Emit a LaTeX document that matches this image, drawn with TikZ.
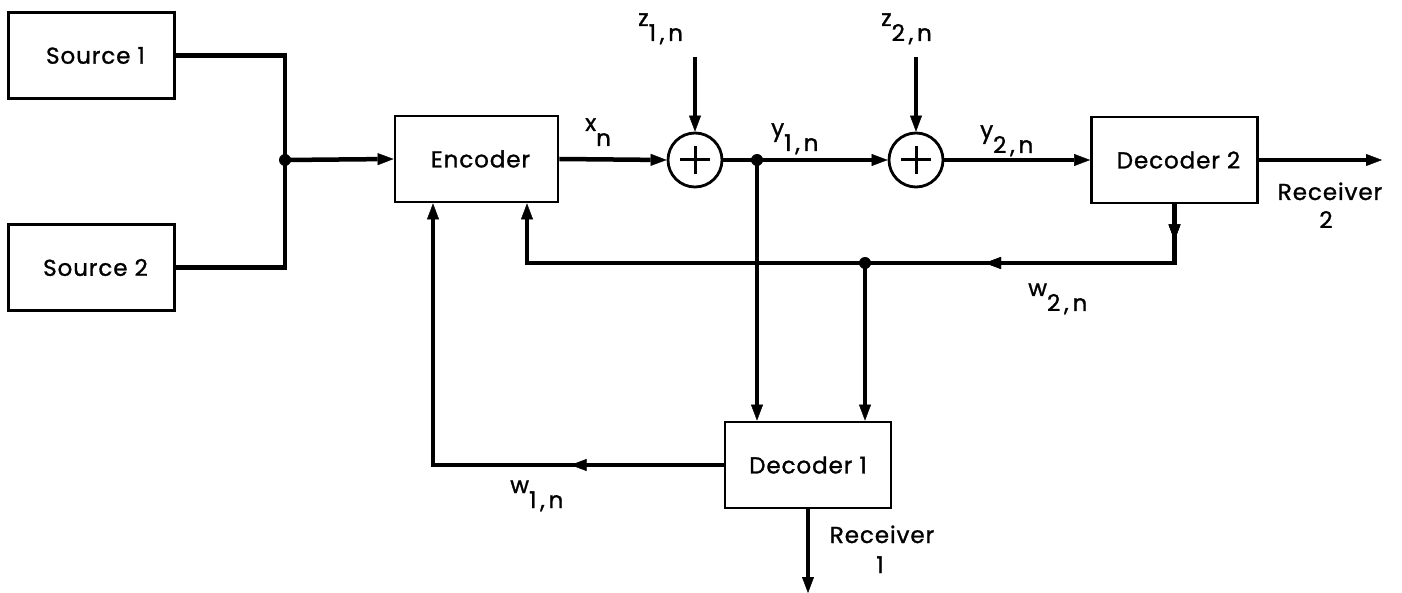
\documentclass[tikz,border=0pt]{standalone}
\usepackage{fontspec}
\setmainfont{Poppins}[LetterSpace=4, FakeBold=1.2]
\usetikzlibrary{arrows.meta,decorations.markings,calc}
\tikzset{
  blk/.style={draw, line width=2.8pt, minimum width=166pt, minimum height=86pt, inner sep=0pt, font=\fontsize{23}{27}\selectfont},
  adder/.style={draw, circle, line width=2.8pt, minimum size=54pt, inner sep=0pt},
  conn/.style={line width=4.5pt},
  tipend/.style={-{Triangle[length=16pt,width=12pt,line width=0.4pt]}},
  midtip/.style={postaction={decorate}, decoration={markings, mark=at position #1 with {\arrow{Triangle[length=16pt,width=12pt,line width=0.4pt]}}}},
  dot/.style={circle, fill, inner sep=0pt, minimum size=12pt},
  lab/.style={inner sep=0pt, font=\fontsize{23}{27}\selectfont},
}
\newcommand{\subl}[2]{#1\raisebox{-15pt}{#2}}
\begin{document}
\begin{tikzpicture}[x=1pt,y=-1pt]
\useasboundingbox (0,0) rectangle (1402,593);
% blocks
\node[blk] (s1) at (91.5,55.5) {\hspace*{8pt}Source 1};
\node[blk] (s2) at (91.5,267.5) {\hspace*{8pt}Source 2};
\node[blk, minimum width=163pt] (enc) at (476.5,159) {\hspace*{8pt}Encoder};
\node[blk] (dec2) at (1174.5,160) {\hspace*{8pt}Decoder 2};
\node[blk] (dec1) at (808,465) {Decoder 1};
\node[adder] (a1) at (695,160) {};
\node[adder] (a2) at (916,160) {};
\draw[line width=3pt] ($(a1.center)+(-15,0)$) -- ($(a1.center)+(15,0)$) ($(a1.center)+(0,-14)$) -- ($(a1.center)+(0,14)$);
\draw[line width=3pt] ($(a2.center)+(-15,0)$) -- ($(a2.center)+(15,0)$) ($(a2.center)+(0,-14)$) -- ($(a2.center)+(0,14)$);
% junctions and helper coordinates
\node[dot] (j0) at (285,160) {};
\node[dot] (j1) at (757,160) {};
\node[dot] (j2) at (865,263) {};
\coordinate (c1) at (285,55.5);
\coordinate (c2) at (285,267.5);
\coordinate (z1) at (695,57);
\coordinate (z2) at (916,57);
\coordinate (r2) at (1382,160);
\coordinate (r1) at (808,593);
\coordinate (fbr) at (1174.5,263);
\coordinate (fbl) at (527,263);
\coordinate (w1c) at (433,465);
% connectors
\draw[conn] (s1.east) -- (c1) -- (c2) -- (s2.east);
\draw[conn, tipend] (j0.center) -- (enc.west);
\draw[conn, tipend] (enc.east) -- (a1.west);
\draw[conn, tipend] (z1) -- (a1.north);
\draw[conn, tipend] (z2) -- (a2.north);
\draw[conn, tipend] (a1.east) -- (a2.west);
\draw[conn, tipend] (a2.east) -- (dec2.west);
\draw[conn, tipend] (dec2.east) -- (r2);
\draw[conn, tipend, midtip=36pt, midtip=248pt] (dec2.south) -- (fbr) -- (fbl) -- (fbl |- enc.south);
\draw[conn, tipend] (j1.center) -- (j1.center |- dec1.north);
\draw[conn, tipend] (j2.center) -- (j2.center |- dec1.north);
\draw[conn, tipend, midtip=153pt] (dec1.west) -- (w1c) -- (w1c |- enc.south);
\draw[conn, tipend] (dec1.south) -- (r1);
% labels
\node[lab, anchor=base west] (lx) at (585,131) {\subl{x}{n}};
\node[lab, anchor=base west] (lz1) at (638,26) {\subl{z}{1\,,\,n}};
\node[lab, anchor=base west] (ly1) at (771,136) {\subl{y}{1\,,\,n}};
\node[lab, anchor=base west] (lz2) at (881,26) {\subl{z}{2\,,\,n}};
\node[lab, anchor=base west] (ly2) at (980,138) {\subl{y}{2\,,\,n}};
\node[lab, anchor=base west] (lw2) at (1028,296) {\subl{w}{2\,,\,n}};
\node[lab, anchor=base west] (lw1) at (510,493) {\subl{w}{1\,,\,n}};
\node[lab, anchor=base] (r2a) at (1330,200) {Receiver};
\node[lab, anchor=base] (r2b) at (1326,228) {2};
\node[lab, anchor=base] (r1a) at (882,543) {Receiver};
\node[lab, anchor=base] (r1b) at (880,573) {1};
\end{tikzpicture}
\end{document}
